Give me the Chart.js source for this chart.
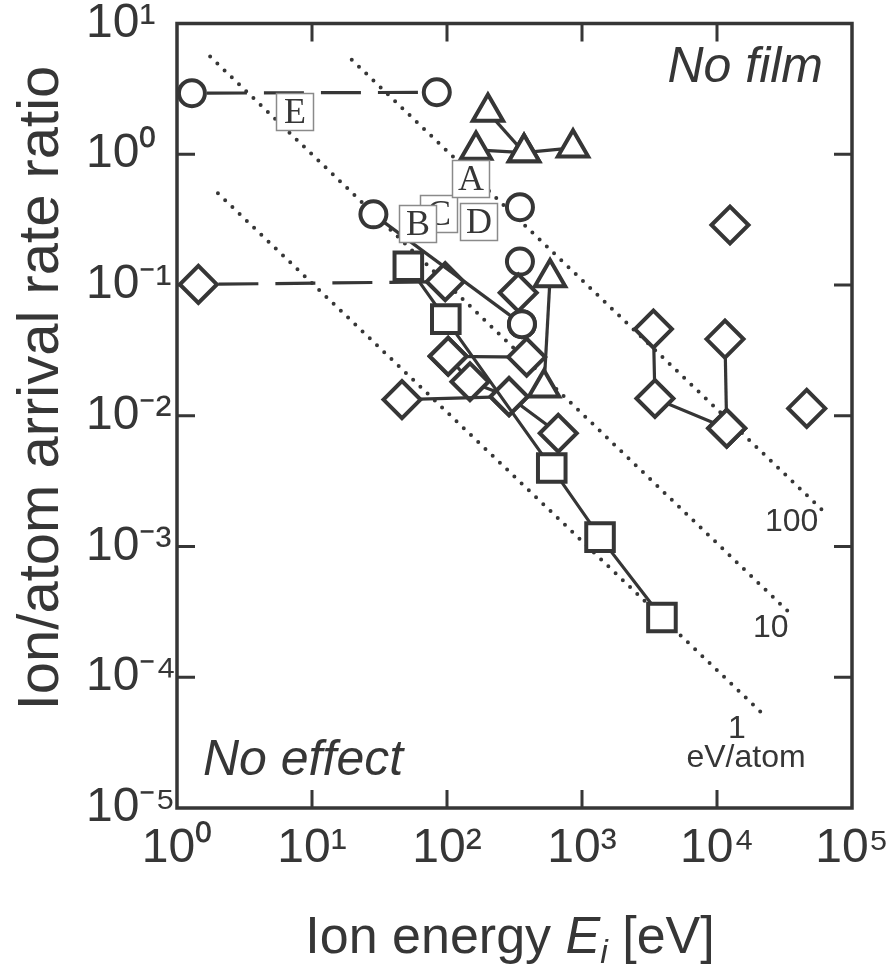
<!DOCTYPE html>
<html>
<head>
<meta charset="utf-8">
<script src="https://cdn.jsdelivr.net/npm/chart.js@4.4.0/dist/chart.umd.min.js"></script>
<style>
  html, body { margin: 0; padding: 0; background: #fff; }
  canvas { display: block; }
</style>
</head>
<body>
<canvas id="chart" width="894" height="965"></canvas>
<script>
// ------------------------
// DATA
// ------------------------

// axis ticks
const xTicks = [1, 10, 100, 1000, 10000, 100000]
const xTickLabels = ['10⁰', '10¹', '10²', '10³', '10⁴', '10⁵']
const yTicks = [1e-5, 1e-4, 1e-3, 1e-2, 1e-1, 1, 10]
const yTickLabels = ['10⁻⁵', '10⁻⁴', '10⁻³', '10⁻²', '10⁻¹', '10⁰', '10¹']

// dotted guides: 1, 10 and 100 eV/atom
const guide1E = [2.01, 23400]
const guide1R = [0.503, 4.9e-5]
const guide10E = [1.76, 35700]
const guide10R = [5.59, 3.0e-4]
const guide100E = [19.7, 66700]
const guide100R = [5.28, 1.72e-3]

// dashed series
const circDashE = [1.29, 84]
const circDashR = [2.93, 2.98]
const diaDashE = [1.44, 97]
const diaDashR = [0.101, 0.106]

// circles
const circAE = [28.5, 359]
const circAR = [0.347, 0.0502]
const circBE = [347]
const circBR = [0.394]
// circle - diamond - circle column
const mixE = [347, 337, 359]
const mixR = [0.151, 0.0873, 0.0502]

// triangles
const triAE = [164, 372, 858]
const triAR = [1.08, 1.03, 1.12]
const triBE = [201, 372]
const triBR = [2.10, 1.03]
const triCE = [580, 523]
const triCR = [0.114, 0.0164]

// squares
const sqE = [51.7, 98, 597, 1360, 3910]
const sqR = [0.139, 0.0548, 0.00399, 0.00118, 0.000286]

// diamonds
const diaAE = [102, 389]
const diaAR = [0.0285, 0.0281]
const diaBE = [46.4, 288]
const diaBR = [0.0133, 0.0140]
const diaCE = [102, 148, 288, 667]
const diaCR = [0.0285, 0.0182, 0.0140, 0.00735]
const diaDE = [3380, 3470, 11800]
const diaDR = [0.046, 0.01355, 0.00802]
const diaEE = [11460, 11800]
const diaER = [0.0386, 0.00802]
const diaSoloE = [12480, 46200]
const diaSoloR = [0.2875, 0.01138]

// ------------------------
// STYLE
// ------------------------

const ink = '#363636'
const sans = '"Liberation Sans", Arial, Helvetica, sans-serif'
const serif = '"Liberation Serif", "Times New Roman", serif'

const rCircle = 13
const rDiamond = 18.5
const rSquare = 19.5
const rTriangle = 17.5

function pts(xs, ys) {
  return xs.map((v, i) => ({ x: v, y: ys[i] }))
}

function series(xs, ys, style, radius, extra) {
  return Object.assign({
    data: pts(xs, ys),
    showLine: true,
    tension: 0,
    borderColor: ink,
    borderWidth: 3.2,
    pointStyle: style,
    pointRadius: radius,
    pointHoverRadius: radius,
    pointBorderWidth: 4,
    pointBorderColor: ink,
    pointBackgroundColor: '#fff'
  }, extra || {})
}

const dotted = { borderWidth: 4, borderDash: [0, 10], borderCapStyle: 'round' }
const dashed = { borderDash: [40, 17], borderDashOffset: -15 }

// first datasets end up on top
const datasets = [
  series(sqE, sqR, 'rect', rSquare),
  series(circAE, circAR, 'circle', rCircle),
  series(circBE, circBR, 'circle', rCircle, { showLine: false }),
  series(mixE, mixR, ['circle', 'rectRot', 'circle'], [rCircle, rDiamond, rCircle]),
  series(triAE, triAR, 'triangle', rTriangle),
  series(triBE, triBR, 'triangle', rTriangle),
  series(triCE, triCR, 'triangle', rTriangle),
  series(diaAE, diaAR, 'rectRot', rDiamond),
  series(diaBE, diaBR, 'rectRot', rDiamond),
  series(diaCE, diaCR, 'rectRot', rDiamond),
  series(diaDE, diaDR, 'rectRot', rDiamond),
  series(diaEE, diaER, 'rectRot', rDiamond),
  series(diaSoloE, diaSoloR, 'rectRot', rDiamond, { showLine: false }),
  series(circDashE, circDashR, 'circle', rCircle, dashed),
  series(diaDashE, diaDashR, 'rectRot', rDiamond, Object.assign({}, dashed, { borderDashOffset: -20 })),
  series(guide1E, guide1R, false, 0, dotted),
  series(guide10E, guide10R, false, 0, dotted),
  series(guide100E, guide100R, false, 0, dotted)
]

// ------------------------
// DECORATION PLUGIN
// ------------------------

const boxes = [
  { t: 'C', x: 439, y: 214 },
  { t: 'A', x: 471, y: 179 },
  { t: 'B', x: 418, y: 224 },
  { t: 'D', x: 479, y: 222 },
  { t: 'E', x: 295, y: 112 }
]

const decor = {
  id: 'decor',
  beforeDatasetsDraw(chart) {
    const { ctx, chartArea: a, scales: { x, y } } = chart
    ctx.save()
    ctx.strokeStyle = ink
    ctx.lineWidth = 3.5
    ctx.strokeRect(a.left, a.top, a.right - a.left, a.bottom - a.top)
    ctx.lineWidth = 3
    ctx.beginPath()
    xTicks.slice(1, -1).forEach(v => {
      const px = x.getPixelForValue(v)
      ctx.moveTo(px, a.bottom); ctx.lineTo(px, a.bottom - 18)
      ctx.moveTo(px, a.top); ctx.lineTo(px, a.top + 18)
    })
    yTicks.slice(1, -1).forEach(v => {
      const py = y.getPixelForValue(v)
      ctx.moveTo(a.left, py); ctx.lineTo(a.left + 18, py)
      ctx.moveTo(a.right, py); ctx.lineTo(a.right - 18, py)
    })
    ctx.stroke()
    ctx.restore()
  },
  afterDatasetsDraw(chart) {
    const ctx = chart.ctx
    ctx.save()
    // boxed letters
    boxes.forEach(b => {
      ctx.fillStyle = '#fff'
      ctx.fillRect(b.x - 18.5, b.y - 18.5, 37, 37)
      ctx.strokeStyle = '#8a8a8a'
      ctx.lineWidth = 1.5
      ctx.strokeRect(b.x - 18.5, b.y - 18.5, 37, 37)
      ctx.fillStyle = ink
      ctx.font = '36px ' + serif
      ctx.textAlign = 'center'
      ctx.textBaseline = 'middle'
      ctx.fillText(b.t, b.x, b.y + 2)
    })
    ctx.textBaseline = 'alphabetic'
    ctx.fillStyle = ink
    ctx.font = 'italic 50px ' + sans
    ctx.textAlign = 'right'
    ctx.fillText('No film', 823, 82)
    ctx.textAlign = 'left'
    ctx.fillText('No effect', 203, 775)
    ctx.font = '32px ' + sans
    ctx.fillText('100', 765, 531)
    ctx.fillText('10', 753, 637)
    ctx.textAlign = 'center'
    ctx.fillText('1', 737, 738)
    ctx.fillText('eV/atom', 746, 767)
    ctx.restore()
  },
  afterDraw(chart) {
    const ctx = chart.ctx
    ctx.save()
    ctx.fillStyle = ink
    // y title
    ctx.font = '58px ' + sans
    ctx.textAlign = 'center'
    ctx.textBaseline = 'alphabetic'
    ctx.translate(58, 388)
    ctx.rotate(-Math.PI / 2)
    ctx.fillText('Ion/atom arrival rate ratio', 0, 0)
    ctx.restore()

    // x title with italic E and subscript i
    ctx.save()
    ctx.fillStyle = ink
    ctx.textBaseline = 'alphabetic'
    ctx.textAlign = 'left'
    const parts = [
      { s: 'Ion energy ', f: '52px ' + sans, dy: 0 },
      { s: 'E', f: 'italic 52px ' + sans, dy: 0 },
      { s: 'i', f: 'italic 34px ' + sans, dy: 10 },
      { s: ' [eV]', f: '52px ' + sans, dy: 0 }
    ]
    let total = 0
    parts.forEach(p => { ctx.font = p.f; p.w = ctx.measureText(p.s).width; total += p.w })
    let cx = 510 - total / 2
    parts.forEach(p => {
      ctx.font = p.f
      ctx.fillText(p.s, cx, 953 + p.dy)
      cx += p.w
    })
    ctx.restore()
  }
}

// ------------------------
// CHART
// ------------------------

const tickFont = { family: sans, size: 48 }

new Chart(document.querySelector('#chart'), {
  type: 'scatter',
  data: { datasets: datasets },
  options: {
    responsive: false,
    animation: false,
    devicePixelRatio: 1,
    layout: { padding: { left: 86, top: 17, right: 42, bottom: 0 } },
    plugins: {
      legend: { display: false },
      tooltip: { enabled: false }
    },
    scales: {
      x: {
        type: 'logarithmic',
        position: 'bottom',
        min: 1,
        max: 100000,
        grid: { display: false, drawTicks: false },
        border: { display: false },
        ticks: {
          font: tickFont,
          color: ink,
          padding: 12,
          maxRotation: 0,
          autoSkip: false,
          callback: (v, i) => xTickLabels[i]
        },
        afterBuildTicks: s => { s.ticks = xTicks.map(v => ({ value: v })) },
        afterFit: s => { s.height = 157; s.paddingLeft = 0; s.paddingRight = 0 }
      },
      y: {
        type: 'logarithmic',
        position: 'left',
        min: 1e-5,
        max: 10,
        grid: { display: false, drawTicks: false },
        border: { display: false },
        ticks: {
          font: tickFont,
          color: ink,
          padding: 0,
          crossAlign: 'far',
          autoSkip: false,
          callback: (v, i) => yTickLabels[i]
        },
        afterBuildTicks: s => { s.ticks = yTicks.map(v => ({ value: v })) },
        afterFit: s => { s.width = 91; s.paddingTop = 0; s.paddingBottom = 0 }
      }
    }
  },
  plugins: [decor]
})
</script>
</body>
</html>
